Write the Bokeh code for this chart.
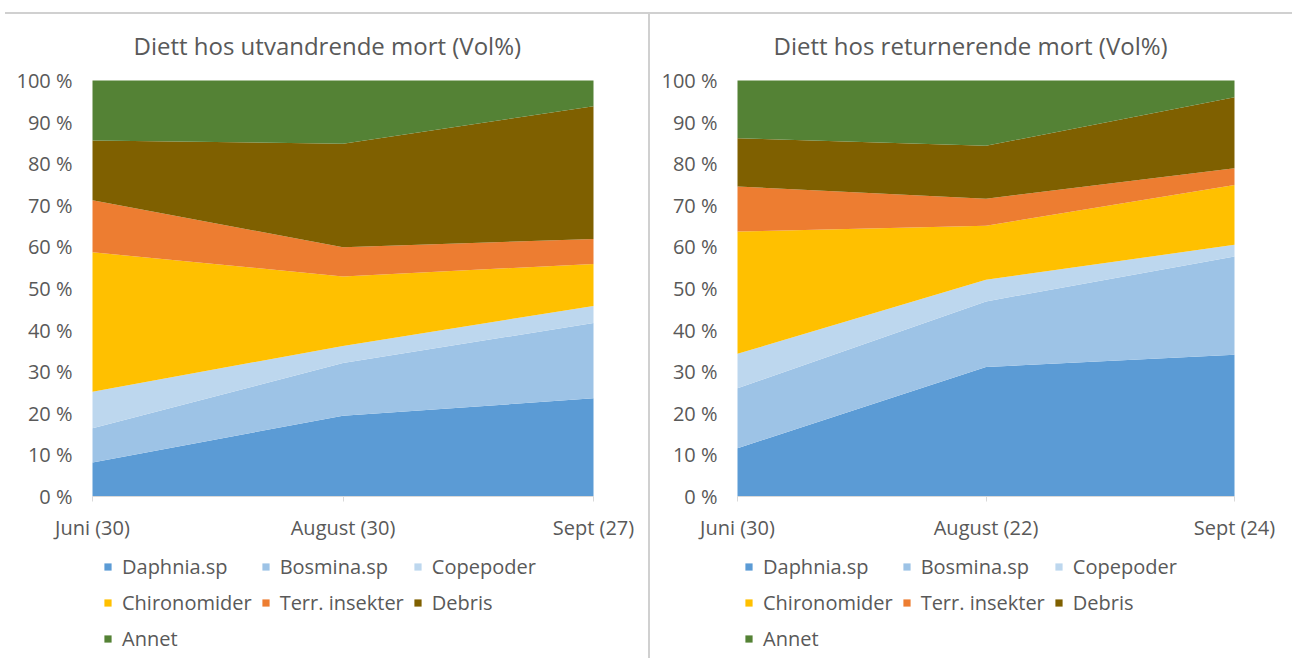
from bokeh.plotting import figure
from bokeh.models import ColumnDataSource, Range1d, FixedTicker, Legend, LegendItem, Div
from bokeh.layouts import row, column
from bokeh.embed import file_html
from bokeh.resources import INLINE

# ---------------- data ----------------
categories = ["Daphnia.sp", "Bosmina.sp", "Copepoder", "Chironomider",
              "Terr. insekter", "Debris", "Annet"]
colors = ["#5B9BD5", "#9DC3E6", "#BDD7EE", "#FFC000", "#ED7D31", "#7F6000", "#548235"]

title_out = "Diett hos utvandrende mort (Vol%)"
title_ret = "Diett hos returnerende mort (Vol%)"

months_out = ["Juni (30)", "August (30)", "Sept (27)"]
months_ret = ["Juni (30)", "August (22)", "Sept (24)"]

# utvandrende mort (Vol%)
out_daphnia = [8.2, 19.4, 23.6]
out_bosmina = [8.2, 12.7, 18.1]
out_copepoder = [8.8, 4.1, 4.1]
out_chironomider = [33.5, 16.7, 10.1]
out_terr = [12.5, 7.0, 6.0]
out_debris = [14.4, 24.9, 31.9]
out_annet = [14.4, 15.2, 6.2]

# returnerende mort (Vol%)
ret_daphnia = [11.6, 31.1, 34.1]
ret_bosmina = [14.4, 15.8, 23.6]
ret_copepoder = [8.3, 5.2, 2.8]
ret_chironomider = [29.4, 13.0, 14.4]
ret_terr = [10.8, 6.5, 4.0]
ret_debris = [11.6, 12.7, 17.1]
ret_annet = [13.9, 15.7, 4.0]

y_ticks = [0, 10, 20, 30, 40, 50, 60, 70, 80, 90, 100]

FONT = "Open Sans"
TXT = "#595959"
GRID = "#d9d9d9"

PLOT_H = 416          # pixels for 0..100 %
LEGEND_H = 158        # pixels below the 0 % line reserved for the legend
TOP_PAD = 14          # pixels above 100 % so its tick label is not clipped
Y_BOTTOM = -100.0 * LEGEND_H / PLOT_H
Y_TOP = 100.0 + 100.0 * TOP_PAD / PLOT_H


def panel(title, months, series, canvas_w, area_left, area_w, t_offset, leg_x):
    """canvas_w: full panel width; area_left/area_w: pixel span of the data area."""
    n = len(months) - 1
    per = area_w / n
    x_start = -area_left / per
    x_end = (canvas_w - area_left) / per

    keys = [f"s{i}" for i in range(len(series))]
    data = {"x": list(range(len(months)))}
    for k, v in zip(keys, series):
        data[k] = v
    src = ColumnDataSource(data)

    p = figure(frame_width=canvas_w, frame_height=PLOT_H + LEGEND_H + TOP_PAD,
               x_range=Range1d(x_start, x_end), y_range=Range1d(Y_BOTTOM, Y_TOP),
               output_backend="svg", toolbar_location=None,
               min_border_left=0, min_border_right=0,
               min_border_top=66 - TOP_PAD, min_border_bottom=0,
               outline_line_color=None, border_fill_color="white",
               background_fill_color="white")
    rs = p.varea_stack(keys, x="x", color=colors, source=src)

    p.title.text = title
    p.title.align = "left"
    p.title.offset = t_offset
    p.title.text_font = FONT
    p.title.text_font_size = "24px"
    p.title.text_font_style = "normal"
    p.title.text_color = TXT

    p.xgrid.visible = False
    p.ygrid.visible = False

    xa = p.xaxis[0]
    xa.fixed_location = 0
    xa.bounds = (0, n)
    xa.ticker = FixedTicker(ticks=list(range(len(months))))
    xa.major_label_overrides = {i: m for i, m in enumerate(months)}
    xa.axis_line_color = GRID
    xa.major_tick_line_color = GRID
    xa.major_tick_in = 0
    xa.major_tick_out = 5
    xa.minor_tick_line_color = None
    xa.major_label_standoff = 12
    xa.major_label_text_font = FONT
    xa.major_label_text_font_size = "20px"
    xa.major_label_text_color = TXT

    ya = p.yaxis[0]
    ya.fixed_location = 0
    ya.ticker = FixedTicker(ticks=y_ticks)
    ya.major_label_overrides = {t: f"{t} %" for t in y_ticks}
    ya.axis_line_color = None
    ya.major_tick_line_color = None
    ya.minor_tick_line_color = None
    ya.major_tick_in = 0
    ya.major_tick_out = 0
    ya.major_label_standoff = 20
    ya.major_label_text_font = FONT
    ya.major_label_text_font_size = "20px"
    ya.major_label_text_color = TXT

    items = [LegendItem(label=c, renderers=[r]) for c, r in zip(categories, rs)]
    leg = Legend(items=items, location=(leg_x, 2), orientation="horizontal", ncols=3,
                 padding=0, margin=0, spacing=9, label_height=20,
                 glyph_width=9, glyph_height=9, label_standoff=10,
                 label_text_font=FONT, label_text_font_size="20px",
                 label_text_color=TXT, border_line_color=None,
                 background_fill_alpha=0)
    p.add_layout(leg)
    return p


p1 = panel(title_out, months_out,
           [out_daphnia, out_bosmina, out_copepoder, out_chironomider,
            out_terr, out_debris, out_annet],
           648, 92, 501, 133, 103)
p2 = panel(title_ret, months_ret,
           [ret_daphnia, ret_bosmina, ret_copepoder, ret_chironomider,
            ret_terr, ret_debris, ret_annet],
           640, 87, 497, 123, 94)

sep = Div(width=2, height=644, margin=0, styles={"background-color": "#d0d0d0"})
topline = Div(width=1287, height=2, margin=(12, 0, 0, 5), styles={"background-color": "#d0d0d0"})

layout = column(topline, row(p1, sep, p2, spacing=0), spacing=0)

open("out.html", "w").write(file_html(layout, INLINE))
